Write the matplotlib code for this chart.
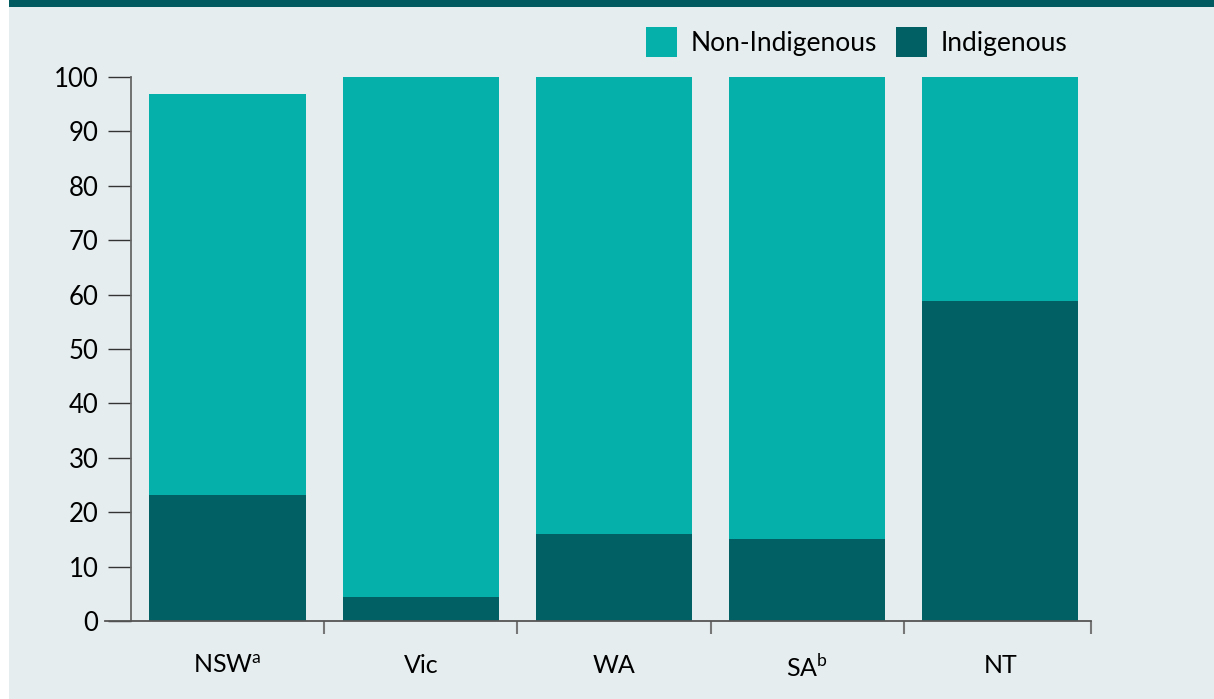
import matplotlib.pyplot as plt
from matplotlib.patches import Rectangle

plt.rcParams['font.family'] = ['Lato', 'DejaVu Sans']
plt.rcParams['mathtext.fontset'] = 'custom'
plt.rcParams['mathtext.rm'] = 'Lato'

# Data (per cent)
states = ['NSW$^{\\mathrm{a}}$', 'Vic', 'WA', 'SA$^{\\mathrm{b}}$', 'NT']
indigenous = [23.2, 4.4, 16.0, 15.1, 58.8]
non_indigenous = [73.7, 95.6, 84.0, 84.9, 41.2]

bg = '#e5edef'
teal_light = '#05afaa'
teal_dark = '#006064'

fig = plt.figure(figsize=(12.14, 6.99), dpi=100)
fig.patch.set_facecolor('white')
# panel background and the (cropped) title band
fig.patches.append(Rectangle((9 / 1214, 0), 1, 1, transform=fig.transFigure,
                             facecolor=bg, edgecolor='none', zorder=-2))
fig.patches.append(Rectangle((9 / 1214, 1 - 7 / 699), 1, 7 / 699, transform=fig.transFigure,
                             facecolor='#005a5f', edgecolor='none', zorder=-1))

ax = fig.add_axes([105 / 1214, 78 / 699, 986 / 1214, 544 / 699])
ax.set_facecolor('none')

x = range(len(states))
ax.bar(x, indigenous, width=0.81, color=teal_dark, label='Indigenous', zorder=2)
ax.bar(x, non_indigenous, width=0.81, bottom=indigenous, color=teal_light,
       label='Non-Indigenous', zorder=2)

ax.set_xlim(-0.635, 4.47)
ax.set_ylim(0, 100)
ax.set_yticks(range(0, 101, 10))
ax.tick_params(axis='y', direction='out', length=16.5, width=1, color='#333333',
               labelsize=18.5, pad=7)

ax.set_xticks(list(x))
ax.set_xticklabels(states)
ax.set_xticks([0.5, 1.5, 2.5, 3.5, 4.47], minor=True)
ax.tick_params(axis='x', which='major', length=0, labelsize=18, pad=24)
ax.tick_params(axis='x', which='minor', direction='out', length=9, width=1.5, color='#777777')
ax.tick_params(axis='y', which='minor', length=0)

for s in ['top', 'right']:
    ax.spines[s].set_visible(False)
ax.spines['left'].set_position(('data', -0.5))
ax.spines['left'].set_color('#666666')
ax.spines['left'].set_linewidth(1.3)
ax.spines['bottom'].set_color('#555555')
ax.spines['bottom'].set_linewidth(1.3)

handles, labels = ax.get_legend_handles_labels()
fig.legend(handles[::-1], labels[::-1], ncol=2, frameon=False, fontsize=19,
           loc='center right', bbox_to_anchor=(1091 / 1214, 1 - 42 / 699),
           handlelength=1.17, handleheight=1.35, handletextpad=0.5, columnspacing=0.75)

fig.savefig('out.png', dpi=100, facecolor=fig.get_facecolor())
